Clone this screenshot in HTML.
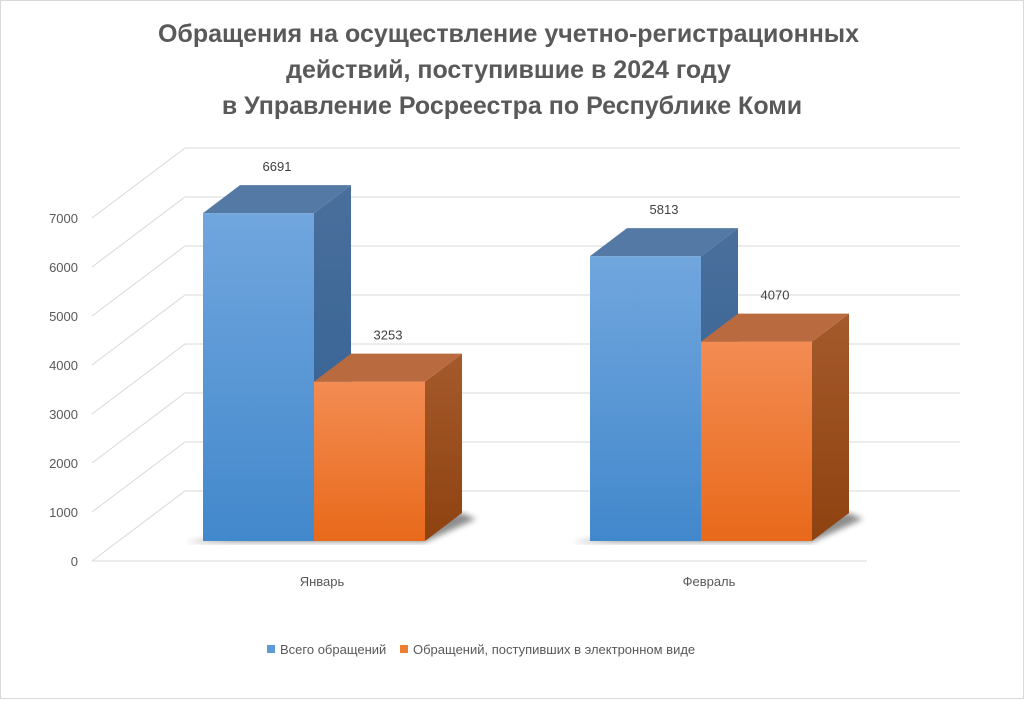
<!DOCTYPE html>
<html><head><meta charset="utf-8"><style>
html,body{margin:0;padding:0;background:#fff}
body{width:1024px;height:699px;overflow:hidden;font-family:"Liberation Sans",sans-serif}
</style></head><body>
<svg id="chart" width="1024" height="699" xmlns="http://www.w3.org/2000/svg" style="font-family:'Liberation Sans',sans-serif">
<defs>
<linearGradient id="gb" x1="0" y1="0" x2="0" y2="1"><stop offset="0" stop-color="#71a6de"/><stop offset="1" stop-color="#4288cc"/></linearGradient>
<linearGradient id="go" x1="0" y1="0" x2="0" y2="1"><stop offset="0" stop-color="#f38c53"/><stop offset="1" stop-color="#e8691a"/></linearGradient>
<linearGradient id="sb" x1="0" y1="0" x2="0" y2="1"><stop offset="0" stop-color="#4a6f9c"/><stop offset="1" stop-color="#2e5f92"/></linearGradient>
<linearGradient id="so" x1="0" y1="0" x2="0" y2="1"><stop offset="0" stop-color="#a55a2c"/><stop offset="1" stop-color="#8e4210"/></linearGradient>
<filter id="blur"><feGaussianBlur stdDeviation="3"/></filter>
</defs>
<rect x="0.5" y="0.5" width="1023" height="698" fill="#fff" stroke="#d9d9d9"/>
<text text-anchor="middle" font-size="25" font-weight="bold" fill="#595959">
<tspan x="512" y="42">Обращения на осуществление учетно-регистрационных</tspan>
<tspan x="512" y="78">действий, поступившие в 2024 году</tspan>
<tspan x="512" y="114">в Управление Росреестра по Республике Коми</tspan>
</text>
<g id="grid"></g><g id="bars"></g><g id="labels"></g>
<g font-size="13" fill="#595959">
<rect x="267" y="645" width="8" height="8" fill="#5b9bd5"/>
<text x="280" y="654">Всего обращений</text>
<rect x="400" y="645" width="8" height="8" fill="#ed7d31"/>
<text x="413" y="654">Обращений, поступивших в электронном виде</text>
</g>
</svg>
<script>
const categories = ["Январь", "Февраль"];
const totalValues = [6691, 5813];
const electronicValues = [3253, 4070];
const yTicks = [0, 1000, 2000, 3000, 4000, 5000, 6000, 7000];

const NS = "http://www.w3.org/2000/svg";
const FRONT0 = 561, BACK0 = 491, PPU = 0.049;
const DX = 37, DY = 28, BASE = 541;
function yFront(v){ return FRONT0 - v*PPU; }
function yBack(v){ return BACK0 - v*PPU; }
function yBar(v){ return BASE - v*PPU; }
const groupLeft = [203, 590], barW = 111;
function mk(tag, attrs, parent){ const e=document.createElementNS(NS,tag); for(const k in attrs) e.setAttribute(k,attrs[k]); parent.appendChild(e); return e; }

const grid = document.getElementById('grid');
yTicks.forEach((t,i)=>{
  const yb=yBack(t), yf=yFront(t);
  const g=mk('g',{},grid);
  
  
  mk('polyline',{points:`${i===0?92:92},${yf} 185,${yb} 960,${yb}`,fill:'none',stroke:'#d9d9d9','stroke-width':1},g);
  const lab=mk('text',{x:78,y:yf+5,'text-anchor':'end','font-size':13,fill:'#595959'},grid);
  lab.textContent=t;
  
  
});
const fl=mk('line',{x1:92,y1:FRONT0,x2:867,y2:FRONT0,stroke:'#d9d9d9'},grid);



const bars=document.getElementById('bars'), labels=document.getElementById('labels');
function bar(x,v,front,side,top,name){
  const g=mk('g',{},bars);
  
  
  const y=yBar(v);
  mk('rect',{x:x,y:y,width:barW,height:BASE-y,fill:front},g);
  mk('polygon',{points:`${x+barW},${y} ${x+barW+DX},${y-DY} ${x+barW+DX},${BASE-DY} ${x+barW},${BASE}`,fill:side},g);
  mk('polygon',{points:`${x},${y} ${x+DX},${y-DY} ${x+barW+DX},${y-DY} ${x+barW},${y}`,fill:top},g);
  const t=mk('text',{x:x+barW/2+DX/2,y:y-DY-14,'text-anchor':'middle','font-size':13,fill:'#404040'},labels);
  t.textContent=v;
  
  
}
categories.forEach((c,i)=>{
  const x=groupLeft[i];
  const sh=mk('polygon',{points:`${x-18},${BASE+1} ${x+2*barW},${BASE+1} ${x+2*barW+DX+14},${BASE-DY+6} ${x+2*barW+DX},${BASE-DY}`,fill:'#333',opacity:0.55,filter:'url(#blur)'},bars);
  
  
  bar(x,totalValues[i],'url(#gb)','url(#sb)','#5479a4','bar-total-'+i);
  bar(x+barW,electronicValues[i],'url(#go)','url(#so)','#b96a3e','bar-electronic-'+i);
  const t=mk('text',{x:x+barW+8,y:586,'text-anchor':'middle','font-size':13,fill:'#595959'},labels);
  t.textContent=c;
  
  
});
</script>
</body></html>
